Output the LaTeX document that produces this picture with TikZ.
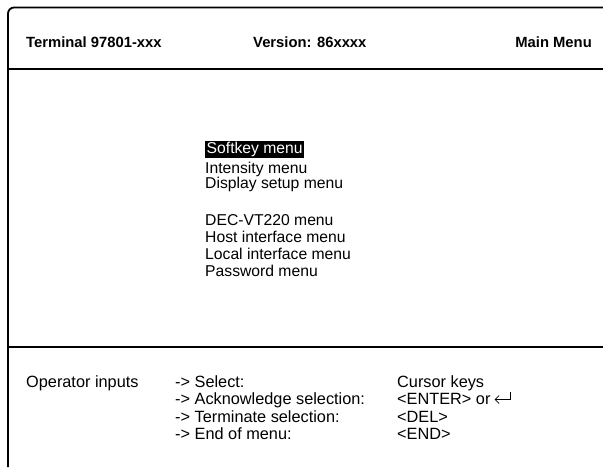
\documentclass[tikz,border=0pt]{standalone}
\usepackage{fontspec}
\setmainfont{Liberation Sans}
\usetikzlibrary{arrows.meta,calc}
\begin{document}
\begin{tikzpicture}[x=1pt,y=-1pt,
  frame/.style={line width=1.8pt, black},
  head/.style={font=\fontsize{14.8}{17}\selectfont\bfseries, anchor=base west, inner sep=0pt},
  item/.style={font=\fontsize{15.7}{18}\selectfont, anchor=base west, inner sep=0pt},
  op/.style={font=\fontsize{16.3}{18}\selectfont, anchor=base west, inner sep=0pt}]
\useasboundingbox (0,0) rectangle (603,467);
% frame
\draw[frame, rounded corners=6pt] (603,7.5) -- (8,7.5) -- (8,467);
\draw[frame] (8,69) -- (603,69);
\draw[frame] (8,347) -- (603,347);
% header
\node[head] (term) at (26,47) {Terminal 97801-xxx};
\node[head] (ver) at (253,47) {Version: 86xxxx};
\node[head, anchor=base east] (main) at (592,47) {Main Menu};
% menu
\node[item, fill=black, text=white, inner xsep=1.5pt, inner ysep=1.5pt] (soft) at (205,153.5) {Softkey menu};
\node[item] (inten) at (205,173.5) {Intensity menu};
\node[item] (disp) at (205,188.5) {Display setup menu};
\node[item] (dec) at (205,225.5) {DEC-VT220 menu};
\node[item] (host) at (205,242.5) {Host interface menu};
\node[item] (local) at (205,259.5) {Local interface menu};
\node[item] (pass) at (205,276.5) {Password menu};
% operator inputs
\node[op] (opin) at (26,387) {Operator inputs};
\node[op] (sel) at (175,387) {-> Select:};
\node[op] (ack) at (175,404.5) {-> Acknowledge selection:};
\node[op] (trm) at (175,422) {-> Terminate selection:};
\node[op] (eom) at (175,439) {-> End of menu:};
\node[op] (curs) at (397,387) {Cursor keys};
\node[op] (enter) at (397,404.5) {<ENTER> or};
\node[op] (del) at (397,422) {<DEL>};
\node[op] (endk) at (397,439) {<END>};
% return symbol
\coordinate (rl) at ($(enter.base east)+(4,-5)$);
\coordinate (rr) at ($(enter.base east)+(20,-5)$);
\coordinate (rt) at ($(enter.base east)+(20,-13)$);
\draw[line width=0.7pt, {Straight Barb[length=4pt,width=8pt]}-] (rl) -- (rr) -- (rt);
\end{tikzpicture}
\end{document}
